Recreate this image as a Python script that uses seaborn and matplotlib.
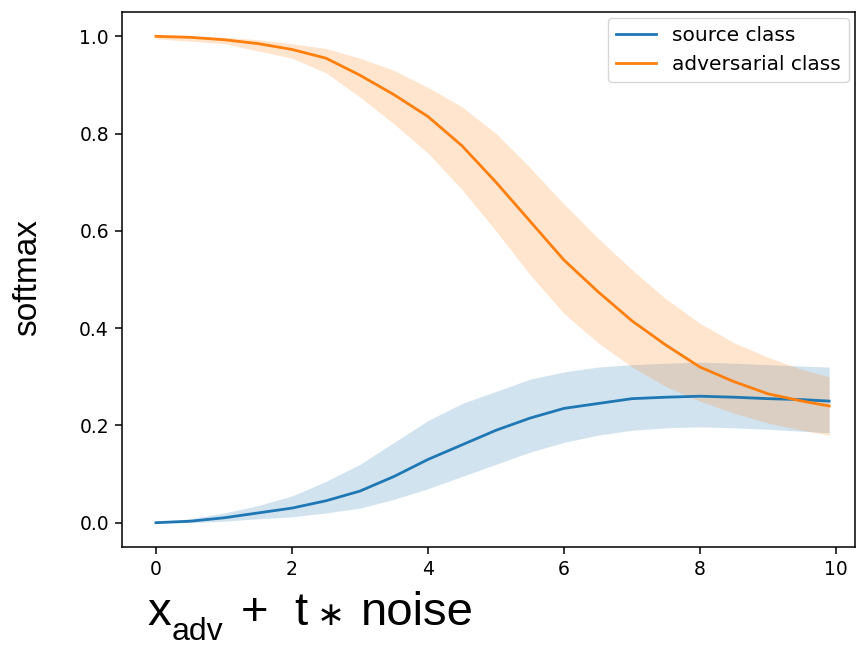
import numpy as np
import pandas as pd
import matplotlib
matplotlib.use("Agg")
import matplotlib.pyplot as plt
import seaborn as sns

# noise scale t
t = [0, 0.5, 1, 1.5, 2, 2.5, 3, 3.5, 4, 4.5, 5, 5.5, 6, 6.5, 7, 7.5, 8, 8.5, 9, 9.5, 9.9]

# source class softmax (mean and band)
src_mean = [0.0, 0.003, 0.01, 0.02, 0.03, 0.045, 0.065, 0.095, 0.13, 0.16, 0.19,
            0.215, 0.235, 0.245, 0.255, 0.258, 0.26, 0.258, 0.255, 0.253, 0.25]
src_hi = [0.002, 0.008, 0.02, 0.035, 0.055, 0.085, 0.12, 0.165, 0.21, 0.245, 0.27,
          0.295, 0.31, 0.32, 0.325, 0.328, 0.33, 0.328, 0.325, 0.322, 0.32]
src_lo = [0.0, 0.0, 0.003, 0.008, 0.012, 0.02, 0.03, 0.048, 0.07, 0.095, 0.12,
          0.145, 0.165, 0.18, 0.19, 0.195, 0.197, 0.195, 0.192, 0.188, 0.185]

# adversarial class softmax (mean and band)
adv_mean = [1.0, 0.998, 0.993, 0.985, 0.973, 0.955, 0.92, 0.88, 0.835, 0.775, 0.70,
            0.62, 0.54, 0.475, 0.415, 0.365, 0.32, 0.29, 0.265, 0.25, 0.24]
adv_hi = [1.0, 1.0, 0.998, 0.993, 0.985, 0.975, 0.955, 0.93, 0.895, 0.855, 0.80,
          0.73, 0.655, 0.585, 0.52, 0.46, 0.41, 0.37, 0.34, 0.315, 0.30]
adv_lo = [0.995, 0.99, 0.985, 0.97, 0.955, 0.925, 0.875, 0.82, 0.76, 0.685, 0.60,
          0.51, 0.43, 0.37, 0.32, 0.28, 0.25, 0.225, 0.205, 0.19, 0.18]

df = pd.DataFrame({
    "t": t * 2,
    "softmax": src_mean + adv_mean,
    "cls": ["source class"] * len(t) + ["adversarial class"] * len(t),
})

W, H = 858, 647
fig = plt.figure(figsize=(W / 100, H / 100), dpi=100)
ax = fig.add_axes([122 / W, 1 - 547 / H, (855 - 122) / W, (547 - 12) / H])

colors = ["#1f77b4", "#ff7f0e"]
sns.lineplot(data=df, x="t", y="softmax", hue="cls", palette=colors, ax=ax, linewidth=2)
ax.fill_between(t, src_lo, src_hi, color=colors[0], alpha=0.2, linewidth=0)
ax.fill_between(t, adv_lo, adv_hi, color=colors[1], alpha=0.2, linewidth=0)

ax.set_xlim(-0.5, 10.28)
ax.set_ylim(-0.05, 1.05)
ax.set_xlabel("")
ax.set_ylabel("")
ax.set_xticks([0, 2, 4, 6, 8, 10])
ax.set_yticks([0.0, 0.2, 0.4, 0.6, 0.8, 1.0])
ax.set_yticklabels(["0.0", "0.2", "0.4", "0.6", "0.8", "1.0"])
ax.tick_params(labelsize=13.5, length=4.7, pad=4.7, width=1.1)
for s in ax.spines.values():
    s.set_linewidth(1.1)
ax.legend(loc="upper right", fontsize=14.5, title=None, borderaxespad=0.3)

sans = "Liberation Sans"
fig.text(27.5 / W, 1 - 278 / H, "softmax", rotation=90, fontsize=24, family=sans,
         ha="center", va="center")

# x label built from pieces: x, subscript adv, + t * noise
base = 1 - 625 / H
fig.text(147 / W, base, "x", fontsize=34, family=sans, ha="left", va="baseline")
fig.text(172 / W, 1 - 640 / H, "adv", fontsize=23, family=sans, ha="left", va="baseline")
fig.text(241 / W, base, "+", fontsize=34, family=sans, ha="left", va="baseline")
fig.text(294 / W, base, "t", fontsize=34, family=sans, ha="left", va="baseline")
fig.text(331 / W, base, "\u2217", fontsize=24, family=["DejaVu Sans"], ha="center",
         va="baseline")
fig.text(361 / W, base, "noise", fontsize=34, family=sans, ha="left", va="baseline")

fig.savefig("out.png", dpi=100)
